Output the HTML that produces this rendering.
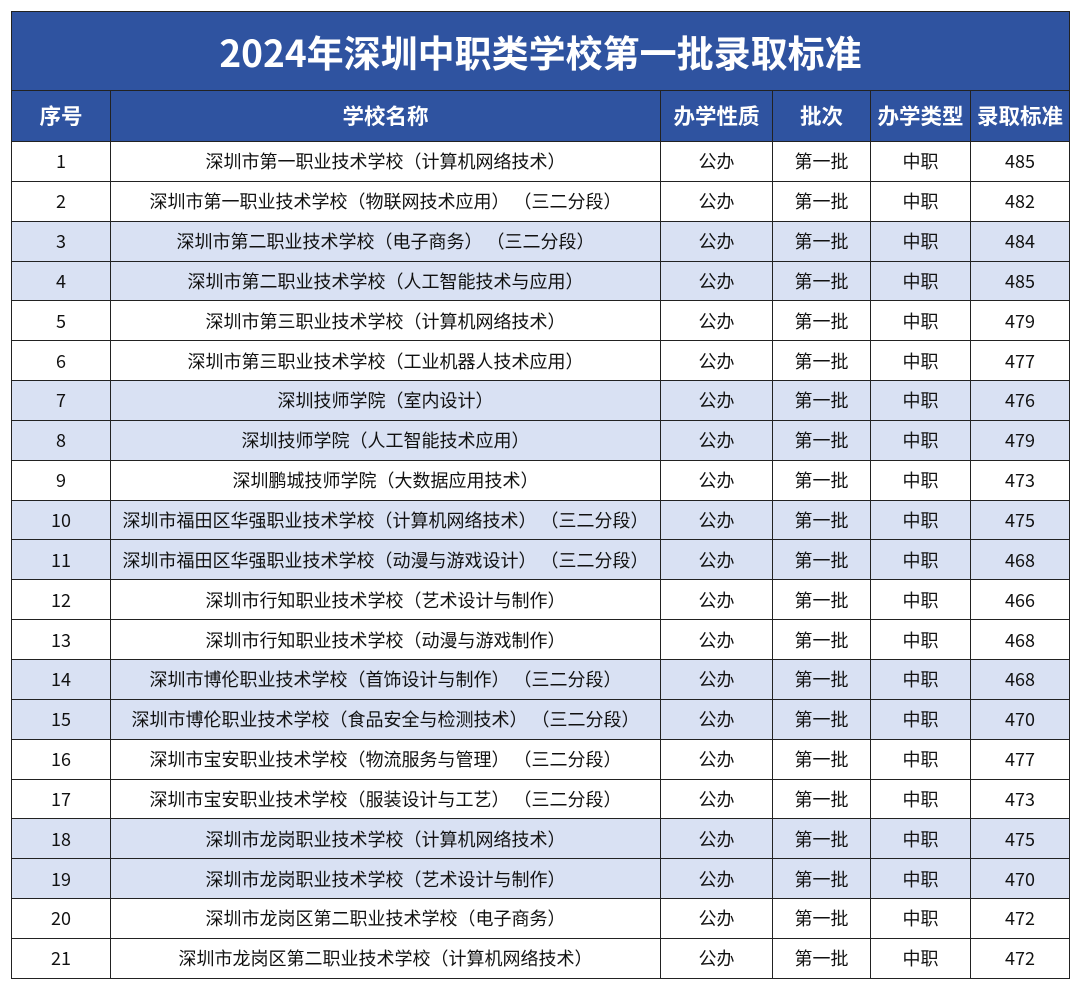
<!DOCTYPE html>
<html><head><meta charset="utf-8"><style>
body{margin:0;background:#fff;width:1080px;height:989px;overflow:hidden;font-family:"Noto Sans CJK SC","Liberation Sans",sans-serif}
.t{position:absolute;left:11px;top:11px;width:1058px;border-collapse:collapse;table-layout:fixed}
td,th{border:1.5px solid #222;text-align:center;padding:0;color:#111;font-size:18px;line-height:20px;white-space:nowrap;overflow:hidden}
tr.r{height:39.85px}
th{background:#2f53a0;color:#fff;font-size:21.5px;font-weight:bold}
tr.h{height:51px}
tr.tt{height:79px}
.title{background:#2f53a0;color:#fff;font-size:37px;font-weight:bold;line-height:40px}
tr.s td{background:#d9e1f3}
</style></head><body>
<table class="t">
<colgroup><col style="width:99px"><col style="width:550px"><col style="width:112px"><col style="width:98px"><col style="width:100px"><col style="width:99px"></colgroup>
<tr class="tt"><th colspan="6" class="title">2024年深圳中职类学校第一批录取标准</th></tr>
<tr class="h"><th>序号</th><th>学校名称</th><th>办学性质</th><th>批次</th><th>办学类型</th><th>录取标准</th></tr>
<tr class="r"><td>1</td><td>深圳市第一职业技术学校（计算机网络技术）</td><td>公办</td><td>第一批</td><td>中职</td><td>485</td></tr>
<tr class="r"><td>2</td><td>深圳市第一职业技术学校（物联网技术应用） （三二分段）</td><td>公办</td><td>第一批</td><td>中职</td><td>482</td></tr>
<tr class="r s"><td>3</td><td>深圳市第二职业技术学校（电子商务） （三二分段）</td><td>公办</td><td>第一批</td><td>中职</td><td>484</td></tr>
<tr class="r s"><td>4</td><td>深圳市第二职业技术学校（人工智能技术与应用）</td><td>公办</td><td>第一批</td><td>中职</td><td>485</td></tr>
<tr class="r"><td>5</td><td>深圳市第三职业技术学校（计算机网络技术）</td><td>公办</td><td>第一批</td><td>中职</td><td>479</td></tr>
<tr class="r"><td>6</td><td>深圳市第三职业技术学校（工业机器人技术应用）</td><td>公办</td><td>第一批</td><td>中职</td><td>477</td></tr>
<tr class="r s"><td>7</td><td>深圳技师学院（室内设计）</td><td>公办</td><td>第一批</td><td>中职</td><td>476</td></tr>
<tr class="r s"><td>8</td><td>深圳技师学院（人工智能技术应用）</td><td>公办</td><td>第一批</td><td>中职</td><td>479</td></tr>
<tr class="r"><td>9</td><td>深圳鹏城技师学院（大数据应用技术）</td><td>公办</td><td>第一批</td><td>中职</td><td>473</td></tr>
<tr class="r s"><td>10</td><td>深圳市福田区华强职业技术学校（计算机网络技术） （三二分段）</td><td>公办</td><td>第一批</td><td>中职</td><td>475</td></tr>
<tr class="r s"><td>11</td><td>深圳市福田区华强职业技术学校（动漫与游戏设计） （三二分段）</td><td>公办</td><td>第一批</td><td>中职</td><td>468</td></tr>
<tr class="r"><td>12</td><td>深圳市行知职业技术学校（艺术设计与制作）</td><td>公办</td><td>第一批</td><td>中职</td><td>466</td></tr>
<tr class="r"><td>13</td><td>深圳市行知职业技术学校（动漫与游戏制作）</td><td>公办</td><td>第一批</td><td>中职</td><td>468</td></tr>
<tr class="r s"><td>14</td><td>深圳市博伦职业技术学校（首饰设计与制作） （三二分段）</td><td>公办</td><td>第一批</td><td>中职</td><td>468</td></tr>
<tr class="r s"><td>15</td><td>深圳市博伦职业技术学校（食品安全与检测技术） （三二分段）</td><td>公办</td><td>第一批</td><td>中职</td><td>470</td></tr>
<tr class="r"><td>16</td><td>深圳市宝安职业技术学校（物流服务与管理） （三二分段）</td><td>公办</td><td>第一批</td><td>中职</td><td>477</td></tr>
<tr class="r"><td>17</td><td>深圳市宝安职业技术学校（服装设计与工艺） （三二分段）</td><td>公办</td><td>第一批</td><td>中职</td><td>473</td></tr>
<tr class="r s"><td>18</td><td>深圳市龙岗职业技术学校（计算机网络技术）</td><td>公办</td><td>第一批</td><td>中职</td><td>475</td></tr>
<tr class="r s"><td>19</td><td>深圳市龙岗职业技术学校（艺术设计与制作）</td><td>公办</td><td>第一批</td><td>中职</td><td>470</td></tr>
<tr class="r"><td>20</td><td>深圳市龙岗区第二职业技术学校（电子商务）</td><td>公办</td><td>第一批</td><td>中职</td><td>472</td></tr>
<tr class="r"><td>21</td><td>深圳市龙岗区第二职业技术学校（计算机网络技术）</td><td>公办</td><td>第一批</td><td>中职</td><td>472</td></tr>
</table>
</body></html>
